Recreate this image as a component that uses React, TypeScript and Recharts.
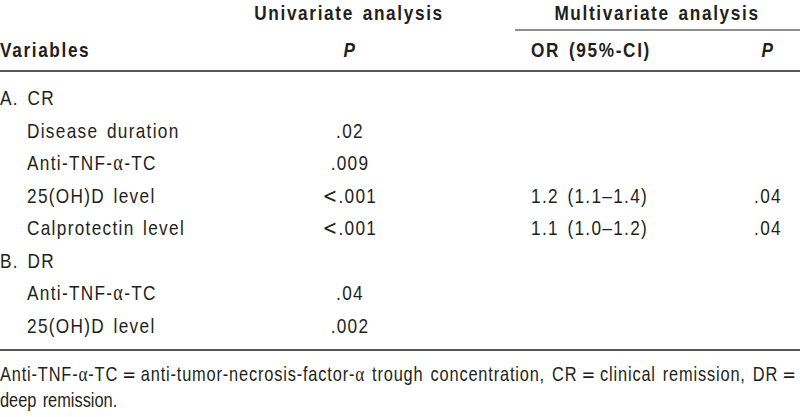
import React from "react";
import { ScatterChart, Scatter, XAxis, YAxis, ReferenceLine } from "recharts";

// ---- table content ----
const headerGroups = ["Univariate analysis", "Multivariate analysis"];
const columnHeaders = ["Variables", "P", "OR (95%-CI)", "P"];
const groupLabels = ["A. CR", "B. DR"];
const crVariables = ["Disease duration", "Anti-TNF-α-TC", "25(OH)D level", "Calprotectin level"];
const crUniP = [".02", ".009", "<.001", "<.001"];
const crOR = ["", "", "1.2 (1.1–1.4)", "1.1 (1.0–1.2)"];
const crMultiP = ["", "", ".04", ".04"];
const drVariables = ["Anti-TNF-α-TC", "25(OH)D level"];
const drUniP = [".04", ".002"];
const drOR = ["", ""];
const drMultiP = ["", ""];
const footnoteLines = [
  "Anti-TNF-α-TC=anti-tumor-necrosis-factor-α trough concentration, CR=clinical remission, DR=",
  "deep remission.",
];

// ---- layout ----
const W = 800;
const H = 417;
const FONT = "'Liberation Sans', Arial, sans-serif";
const SX = 0.82; // horizontal condensing
const INK = "#231f20";
const COL = { variables: 0, indent: 27, uni: 350, orStart: 531, multi: 768, uniGroup: 349, multiGroup: 657 };
const ROW = { group: 20, header: 57, first: 105, step: 32.5, foot: [381, 407] };

type Kind = "head" | "body" | "foot";
type Cell = { x: number; y: number; text: string; anchor: string; kind: Kind; italic?: boolean; justify?: number };

const STYLE: Record<Kind, { fs: number; weight: number; ls: number; ws: number }> = {
  head: { fs: 21, weight: 700, ls: 2.0, ws: 3 },
  body: { fs: 21, weight: 400, ls: 1.6, ws: 3 },
  foot: { fs: 20, weight: 400, ls: 0, ws: 2 },
};

const cells: Cell[] = [];
cells.push({ x: COL.uniGroup, y: ROW.group, text: headerGroups[0], anchor: "middle", kind: "head" });
cells.push({ x: COL.multiGroup, y: ROW.group, text: headerGroups[1], anchor: "middle", kind: "head" });
cells.push({ x: COL.variables, y: ROW.header, text: columnHeaders[0], anchor: "start", kind: "head" });
cells.push({ x: COL.uni, y: ROW.header, text: columnHeaders[1], anchor: "middle", kind: "head", italic: true });
cells.push({ x: COL.orStart, y: ROW.header, text: columnHeaders[2], anchor: "start", kind: "head" });
cells.push({ x: COL.multi, y: ROW.header, text: columnHeaders[3], anchor: "middle", kind: "head", italic: true });

const groups = [
  { label: groupLabels[0], vars: crVariables, uni: crUniP, or: crOR, multi: crMultiP },
  { label: groupLabels[1], vars: drVariables, uni: drUniP, or: drOR, multi: drMultiP },
];
let r = 0;
groups.forEach((g) => {
  const gy = ROW.first + r * ROW.step;
  cells.push({ x: COL.variables, y: gy, text: g.label, anchor: "start", kind: "body" });
  r++;
  g.vars.forEach((v, i) => {
    const y = ROW.first + r * ROW.step;
    cells.push({ x: COL.indent, y, text: v, anchor: "start", kind: "body" });
    if (g.uni[i]) cells.push({ x: COL.uni, y, text: g.uni[i], anchor: "middle", kind: "body" });
    if (g.or[i]) cells.push({ x: COL.orStart, y, text: g.or[i], anchor: "start", kind: "body" });
    if (g.multi[i]) cells.push({ x: COL.multi, y, text: g.multi[i], anchor: "middle", kind: "body" });
    r++;
  });
});
footnoteLines.forEach((t, i) => {
  cells.push({ x: 0, y: ROW.foot[i], text: t, anchor: "start", kind: "foot", justify: i === 0 ? W / SX : undefined });
});

const ruleTop = 30;
const ruleHeader = 71;
const ruleBottom = 350;

// symbols typeset in other fonts, as in the original typesetting
const SYMBOL_FONT: Record<string, { family: string; scale: number; pad: boolean }> = {
  "α": { family: "'Liberation Serif', serif", scale: 1.05, pad: false },
  "<": { family: "'DejaVu Sans', sans-serif", scale: 1.0, pad: false },
  "=": { family: "'DejaVu Sans', sans-serif", scale: 1.0, pad: true },
};

function rich(text: string, fs: number) {
  const out: React.ReactNode[] = [];
  let buf = "";
  let k = 0;
  const flush = () => {
    if (buf) out.push(<tspan key={"t" + k++}>{buf}</tspan>);
    buf = "";
  };
  for (const ch of Array.from(text)) {
    const sym = SYMBOL_FONT[ch];
    if (sym) {
      flush();
      out.push(
        <tspan key={"s" + k++} fontFamily={sym.family} fontSize={fs * sym.scale} fontWeight={400}>
          {sym.pad ? "\u2009" + ch + "\u2009" : ch}
        </tspan>
      );
    } else buf += ch;
  }
  flush();
  return out;
}

const CellText = (props: any) => {
  const { cx, cy, payload } = props;
  const c: Cell = payload;
  const s = STYLE[c.kind];
  const extra: any = {};
  if (c.justify) {
    extra.textLength = c.justify;
    extra.lengthAdjust = "spacing";
  }
  return (
    <text
      x={0}
      y={0}
      transform={`translate(${cx},${cy}) scale(${SX},1)`}
      textAnchor={c.anchor}
      fontFamily={FONT}
      fontSize={s.fs}
      fontWeight={s.weight}
      fontStyle={c.italic ? "italic" : "normal"}
      fill={INK}
      letterSpacing={s.ls}
      wordSpacing={s.ws}
      {...extra}
    >
      {rich(c.text, s.fs)}
    </text>
  );
};

export default function App() {
  return (
    <div style={{ position: "absolute", left: 0, top: 0, background: "#fff" }}>
      <ScatterChart width={W} height={H} margin={{ top: 0, right: 0, bottom: 0, left: 0 }}>
        <XAxis dataKey="x" type="number" domain={[0, W]} hide />
        <YAxis dataKey="y" type="number" domain={[0, H]} reversed hide />
        <ReferenceLine segment={[{ x: 515, y: ruleTop }, { x: W, y: ruleTop }]} stroke={INK} strokeWidth={1.2} ifOverflow="visible" />
        <ReferenceLine segment={[{ x: 0, y: ruleHeader }, { x: W, y: ruleHeader }]} stroke={INK} strokeWidth={1.5} ifOverflow="visible" />
        <ReferenceLine segment={[{ x: 0, y: ruleBottom }, { x: W, y: ruleBottom }]} stroke={INK} strokeWidth={1.5} ifOverflow="visible" />
        <Scatter data={cells} shape={CellText} isAnimationActive={false} />
      </ScatterChart>
    </div>
  );
}
